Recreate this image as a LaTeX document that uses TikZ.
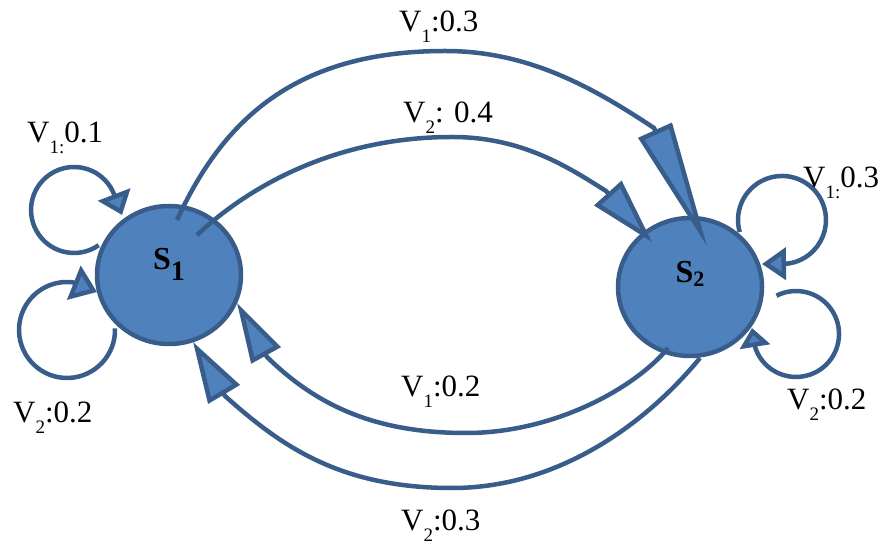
\documentclass[tikz,border=0pt]{standalone}
\usepackage{fontspec}
\setmainfont{Liberation Serif}
\usetikzlibrary{arrows.meta,shapes.geometric}
\definecolor{fillc}{HTML}{4F81BD}
\definecolor{linec}{HTML}{385D8A}
\newcommand{\lsub}[1]{\raisebox{-11pt}{\fontsize{19}{19}\selectfont #1}}
\begin{document}
\begin{tikzpicture}[x=1pt,y=1pt,
  state/.style={ellipse,draw=linec,fill=fillc,line width=4.5pt,minimum width=144pt,minimum height=138pt,inner sep=0pt,font=\fontsize{32}{32}\selectfont\bfseries},
  conn/.style={draw=linec,line width=4.5pt},
  lab/.style={anchor=base west,inner sep=0pt,font=\fontsize{31}{36}\selectfont}]
\useasboundingbox (0,0) rectangle (885,546);
\node[state,text height=10pt,text depth=20pt] (s1) at (169,271) {S\raisebox{-11pt}{\fontsize{28}{28}\selectfont\bfseries 1}};
\node[state,text height=10pt,text depth=18pt] (s2) at (690,259) {S\raisebox{-4pt}{\fontsize{22}{22}\selectfont\bfseries 2}};
% anchor points
\coordinate (c1s) at ([shift={(8,55)}]s1.center);
\coordinate (c1t) at ([shift={(17,41)}]s2.center);
\coordinate (c2s) at ([shift={(28,40)}]s1.center);
\coordinate (c2t) at ([shift={(-38,45)}]s2.center);
\coordinate (c3s) at ([shift={(-22,-61)}]s2.center);
\coordinate (c3t) at ([shift={(68,-28)}]s1.center);
\coordinate (c4s) at ([shift={(10,-71)}]s2.center);
\coordinate (c4t) at ([shift={(24,-67)}]s1.center);
\coordinate (l1s) at ([shift={(-70.3,29.8)}]s1.center);
\coordinate (l1t) at ([shift={(-47,60)}]s1.center);
\coordinate (l2s) at ([shift={(-54,-53.3)}]s1.center);
\coordinate (l2t) at ([shift={(-72,-17)}]s1.center);
\coordinate (l3s) at ([shift={(49.7,54.9)}]s2.center);
\coordinate (l3t) at ([shift={(72,23)}]s2.center);
\coordinate (l4s) at ([shift={(86.5,-8.7)}]s2.center);
\coordinate (l4t) at ([shift={(62,-41)}]s2.center);
% S1 -> S2
\draw[conn,-{Triangle[length=127pt,width=36pt,fill=fillc]}] (c1s) .. controls (223,426) and (295,495) .. (445,495) .. controls (525,495) and (588,462) .. (654,418) -- (c1t);
\draw[conn,-{Triangle[length=66pt,width=36pt,fill=fillc]}] (c2s) .. controls (255,365) and (342,409) .. (452,409) .. controls (522,409) and (568,379) .. (606,355) -- (c2t);
% S2 -> S1
\draw[conn,-{Triangle[length=60pt,width=33pt,fill=fillc]}] (c3s) .. controls (636.5,159.5) and (556,113) .. (466,113) .. controls (376,113) and (317,140) .. (267,189) -- (c3t);
\draw[conn,-{Triangle[length=61pt,width=36pt,fill=fillc]}] (c4s) .. controls (649,126) and (562,58) .. (452,58) .. controls (340,58) and (281,100) .. (225,150) -- (c4t);
% self loops
\draw[conn,-{Triangle[length=22pt,width=34pt,fill=fillc]}] (l1s) arc[start angle=-55,end angle=-337.5,radius=43pt] -- (l1t);
\draw[conn,-{Triangle[length=25pt,width=36pt,fill=fillc]}] (l2s) arc[start angle=2,end angle=-277,radius=48pt] -- (l2t);
\draw[conn,-{Triangle[length=24pt,width=32pt,fill=fillc]}] (l3s) arc[start angle=196,end angle=-84,radius=44pt] -- (l3t);
\draw[conn,-{Triangle[length=19pt,width=30pt,fill=fillc]}] (l4s) arc[start angle=117,end angle=-162,radius=43pt] -- (l4t);
% labels
\node[lab] (t1) at (399,514) {V\lsub{1}:0.3};
\node[lab] (t2) at (403,423) {V\lsub{2}: 0.4};
\node[lab] (t3) at (27,403) {V\lsub{1:}0.1};
\node[lab] (t4) at (13,124) {V\lsub{2}:0.2};
\node[lab] (t5) at (803,358) {V\lsub{1:}0.3};
\node[lab] (t6) at (787,136) {V\lsub{2}:0.2};
\node[lab] (t7) at (401,149) {V\lsub{1}:0.2};
\node[lab] (t8) at (401,16) {V\lsub{2}:0.3};
\end{tikzpicture}
\end{document}
